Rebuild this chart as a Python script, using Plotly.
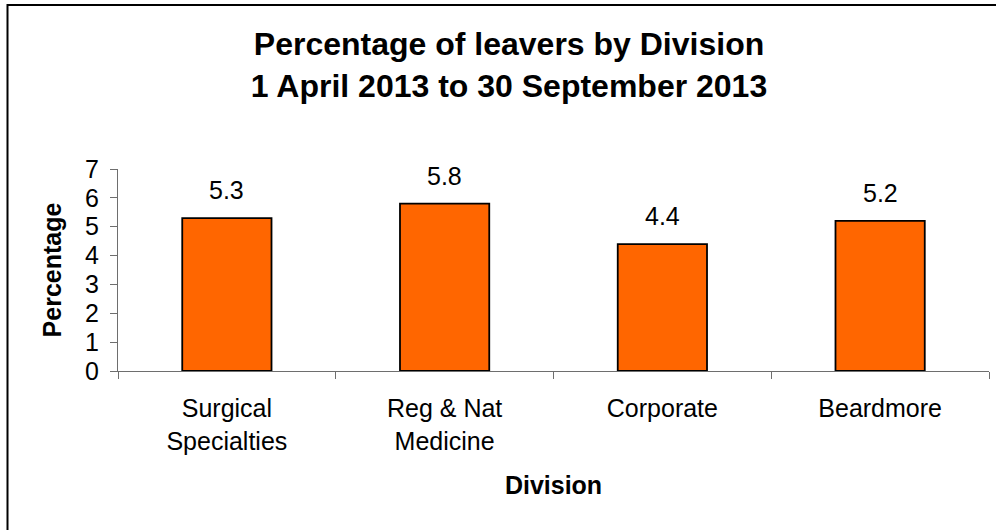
import plotly.graph_objects as go

# Leavers by division, 1 April 2013 to 30 September 2013
divisions = ["Surgical Specialties", "Reg & Nat Medicine", "Corporate", "Beardmore"]
tick_labels = ["Surgical<br>Specialties", "Reg & Nat<br>Medicine", "Corporate", "Beardmore"]
leaver_pct = [5.3, 5.8, 4.4, 5.2]
y_ticks = [0, 1, 2, 3, 4, 5, 6, 7]

FONT = "Liberation Sans, Arial, sans-serif"
AXIS_GREY = "#6e6e6e"

fig = go.Figure(
    go.Bar(
        x=divisions,
        y=leaver_pct,
        marker=dict(color="#FF6600", line=dict(color="#000000", width=1.8)),
        hoverinfo="x+y",
    )
)

# value labels above each bar
for d, v in zip(divisions, leaver_pct):
    fig.add_annotation(
        x=d, y=v, text=f"{v:.1f}", showarrow=False,
        yanchor="bottom", yshift=12,
        font=dict(family=FONT, size=25, color="#000000"),
    )

W, H = 996, 530
ml, mr, mt, mb = 118, 7, 169, 159
pw, ph = W - ml - mr, H - mt - mb

# outer chart frame (only top and left edges fall inside the page)
fig.add_shape(
    type="rect", xref="paper", yref="paper",
    x0=(7.5 - ml) / pw, x1=(W + 60 - ml) / pw,
    y0=(H - mb - (H + 60)) / ph, y1=(H - mb - 5) / ph,
    line=dict(color="#000000", width=2), fillcolor="rgba(0,0,0,0)",
    layer="below",
)

fig.update_layout(
    width=W, height=H,
    margin=dict(l=ml, r=mr, t=mt, b=mb),
    paper_bgcolor="#ffffff", plot_bgcolor="#ffffff",
    bargap=0.59,
    showlegend=False,
    title=dict(
        text="<b>Percentage of leavers by Division<br>1 April 2013 to 30 September 2013</b>",
        x=509 / W, xanchor="center", xref="container",
        y=1 - 55 / H, yanchor="middle", yref="container",
        font=dict(family=FONT, size=32, color="#000000"),
    ),
    xaxis=dict(
        tickvals=divisions, ticktext=tick_labels,
        tickson="boundaries", ticks="outside", ticklen=7, tickwidth=1,
        tickcolor=AXIS_GREY,
        showline=True, linecolor=AXIS_GREY, linewidth=1,
        showgrid=False, zeroline=False,
        tickfont=dict(family=FONT, size=25, color="#000000"),
        ticklabelstandoff=15,
        title=dict(text="<b>Division</b>", standoff=22,
                   font=dict(family=FONT, size=25, color="#000000")),
    ),
    yaxis=dict(
        range=[0, 7], tickvals=y_ticks,
        ticks="outside", ticklen=7, tickwidth=1, tickcolor=AXIS_GREY,
        showline=True, linecolor=AXIS_GREY, linewidth=1,
        showgrid=False, zeroline=False,
        tickfont=dict(family=FONT, size=25, color="#000000"),
        ticklabelstandoff=6,
        title=dict(text="<b>Percentage</b>", standoff=16,
                   font=dict(family=FONT, size=25, color="#000000")),
    ),
)

fig.write_html("out.html")
